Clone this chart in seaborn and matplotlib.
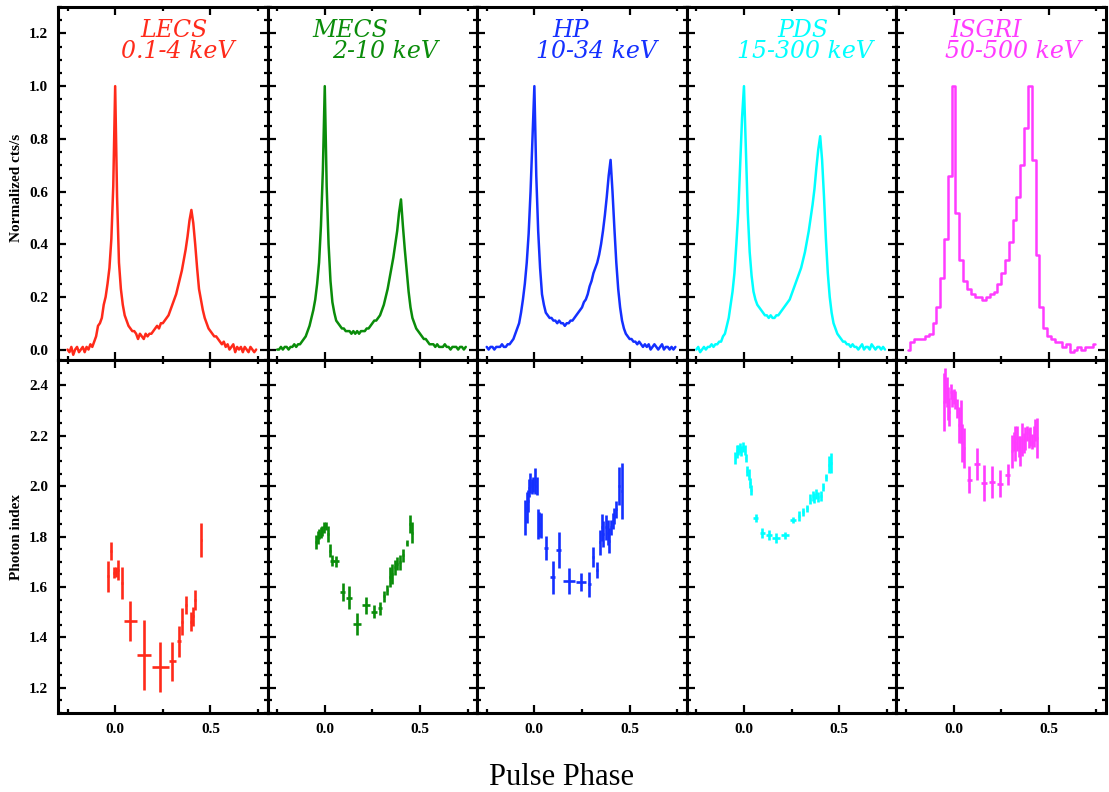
import numpy as np
import matplotlib
matplotlib.use("Agg")
import matplotlib.pyplot as plt
import seaborn as sns
from matplotlib.ticker import MultipleLocator

# ------------------------------------------------------------
# data

instruments = ["LECS", "MECS", "HP", "PDS", "ISGRI"]
energy_bands = ["0.1-4 keV", "2-10 keV", "10-34 keV", "15-300 keV", "50-500 keV"]
colors = ["#ff2a1a", "#0a8c0a", "#1430ff", "#00ffff", "#ff3cff"]

# pulse profiles, 0.01 phase bins starting at phase -0.25 (ISGRI: 0.02 bins from -0.24)
lecs_prof = [0.00, -0.01, 0.01, -0.02, 0.00, 0.01, -0.01, 0.00, 0.01, -0.01,
             0.01, 0.00, 0.02, 0.01, 0.03, 0.05, 0.09, 0.10, 0.12, 0.17,
             0.20, 0.25, 0.31, 0.42, 0.62, 1.00, 0.58, 0.33, 0.23, 0.17,
             0.13, 0.11, 0.09, 0.08, 0.07, 0.07, 0.06, 0.04, 0.06, 0.05,
             0.04, 0.06, 0.05, 0.06, 0.06, 0.07, 0.08, 0.09, 0.08, 0.10,
             0.10, 0.11, 0.12, 0.13, 0.15, 0.17, 0.19, 0.21, 0.24, 0.27,
             0.30, 0.34, 0.38, 0.43, 0.49, 0.53, 0.48, 0.40, 0.31, 0.23,
             0.19, 0.15, 0.12, 0.10, 0.08, 0.07, 0.06, 0.05, 0.05, 0.04,
             0.03, 0.02, 0.03, 0.01, 0.02, 0.00, 0.01, 0.02, -0.01, 0.01,
             0.00, 0.01, -0.01, 0.01, 0.00, -0.01, 0.01, 0.00, -0.01, 0.00]
mecs_prof = [0.00, 0.00, 0.01, 0.00, 0.01, 0.01, 0.00, 0.01, 0.01, 0.02,
             0.01, 0.02, 0.02, 0.03, 0.04, 0.05, 0.07, 0.09, 0.12, 0.15,
             0.19, 0.25, 0.33, 0.47, 0.68, 1.00, 0.62, 0.40, 0.26, 0.18,
             0.14, 0.11, 0.10, 0.09, 0.08, 0.08, 0.07, 0.07, 0.07, 0.06,
             0.07, 0.06, 0.07, 0.06, 0.07, 0.07, 0.07, 0.08, 0.08, 0.09,
             0.10, 0.11, 0.11, 0.12, 0.13, 0.15, 0.17, 0.20, 0.23, 0.27,
             0.31, 0.35, 0.40, 0.45, 0.52, 0.57, 0.47, 0.38, 0.30, 0.22,
             0.16, 0.12, 0.10, 0.08, 0.07, 0.06, 0.05, 0.04, 0.04, 0.03,
             0.02, 0.02, 0.02, 0.01, 0.02, 0.01, 0.01, 0.01, 0.02, 0.01,
             0.01, 0.00, 0.01, 0.01, 0.01, 0.00, 0.01, 0.01, 0.00, 0.01]
hp_prof = [0.01, 0.00, 0.01, 0.01, 0.00, 0.01, 0.01, 0.01, 0.02, 0.01,
           0.01, 0.02, 0.02, 0.03, 0.04, 0.06, 0.08, 0.10, 0.14, 0.19,
           0.25, 0.33, 0.44, 0.60, 0.80, 1.00, 0.66, 0.45, 0.31, 0.21,
           0.17, 0.14, 0.13, 0.12, 0.12, 0.11, 0.11, 0.10, 0.11, 0.10,
           0.10, 0.09, 0.10, 0.10, 0.11, 0.11, 0.12, 0.13, 0.14, 0.15,
           0.16, 0.18, 0.19, 0.21, 0.24, 0.26, 0.29, 0.31, 0.33, 0.36,
           0.40, 0.45, 0.51, 0.58, 0.66, 0.72, 0.60, 0.46, 0.33, 0.23,
           0.16, 0.11, 0.08, 0.06, 0.05, 0.04, 0.04, 0.03, 0.03, 0.02,
           0.03, 0.02, 0.01, 0.02, 0.01, 0.02, 0.00, 0.01, 0.02, 0.01,
           0.00, 0.01, 0.02, 0.00, 0.01, 0.01, 0.00, 0.01, 0.00, 0.01]
pds_prof = [0.00, 0.01, -0.01, 0.00, 0.01, 0.00, 0.01, 0.01, 0.02, 0.01,
            0.02, 0.02, 0.03, 0.03, 0.05, 0.06, 0.09, 0.12, 0.17, 0.22,
            0.29, 0.40, 0.52, 0.70, 0.88, 1.00, 0.76, 0.52, 0.37, 0.28,
            0.22, 0.19, 0.17, 0.16, 0.15, 0.14, 0.13, 0.13, 0.12, 0.13,
            0.12, 0.12, 0.13, 0.13, 0.14, 0.15, 0.16, 0.17, 0.18, 0.19,
            0.21, 0.23, 0.25, 0.27, 0.29, 0.31, 0.34, 0.37, 0.41, 0.45,
            0.50, 0.55, 0.61, 0.69, 0.76, 0.81, 0.72, 0.58, 0.42, 0.29,
            0.20, 0.14, 0.10, 0.08, 0.06, 0.05, 0.04, 0.03, 0.03, 0.02,
            0.02, 0.01, 0.02, 0.01, 0.01, 0.00, 0.01, 0.02, 0.00, 0.01,
            0.01, 0.00, 0.02, 0.01, 0.00, 0.01, 0.01, 0.00, 0.01, 0.00]
isgri_prof = [0.00, 0.03, 0.04, 0.04, 0.04, 0.05, 0.06, 0.10, 0.16, 0.27,
              0.42, 0.66, 1.00, 0.52, 0.34, 0.26, 0.23, 0.21, 0.20, 0.20,
              0.19, 0.20, 0.21, 0.22, 0.25, 0.29, 0.34, 0.41, 0.49, 0.58,
              0.70, 0.84, 1.00, 0.72, 0.36, 0.16, 0.08, 0.05, 0.04, 0.03,
              0.03, 0.01, 0.02, -0.01, 0.00, 0.01, 0.00, 0.01, 0.01, 0.02]

profiles = [lecs_prof, mecs_prof, hp_prof, pds_prof, isgri_prof]
prof_start = [-0.25, -0.25, -0.25, -0.25, -0.24]
prof_step = [0.01, 0.01, 0.01, 0.01, 0.02]
prof_draw = ["default", "default", "default", "default", "steps-mid"]

# photon index vs phase
lecs_ph = [-0.038, -0.021, -0.005, 0.004, 0.017, 0.035, 0.079, 0.152, 0.236,
           0.300, 0.335, 0.353, 0.374, 0.397, 0.411, 0.421, 0.453]
lecs_gam = [1.643, 1.744, 1.656, 1.661, 1.668, 1.616, 1.465, 1.331, 1.283,
            1.305, 1.384, 1.463, 1.530, 1.463, 1.483, 1.547, 1.786]
lecs_gerr = [0.062, 0.035, 0.022, 0.020, 0.040, 0.063, 0.081, 0.140, 0.100,
             0.078, 0.060, 0.052, 0.036, 0.037, 0.036, 0.040, 0.068]
lecs_perr = [0.004] * 6 + [0.035, 0.038, 0.044, 0.017, 0.010] + [0.005] * 6

mecs_ph = [-0.045, -0.038, -0.030, -0.021, -0.012, -0.003, 0.005, 0.017, 0.028,
           0.038, 0.059, 0.094, 0.127, 0.168, 0.215, 0.258, 0.290, 0.311, 0.328,
           0.342, 0.354, 0.366, 0.380, 0.394, 0.410, 0.429, 0.447, 0.459]
mecs_gam = [1.777, 1.797, 1.810, 1.816, 1.823, 1.836, 1.843, 1.810, 1.744,
            1.705, 1.702, 1.580, 1.558, 1.453, 1.528, 1.502, 1.515, 1.563, 1.587,
            1.640, 1.652, 1.679, 1.692, 1.698, 1.725, 1.773, 1.849, 1.816]
mecs_gerr = [0.028, 0.025, 0.020, 0.020, 0.020, 0.020, 0.015, 0.030, 0.025,
             0.022, 0.022, 0.037, 0.044, 0.043, 0.034, 0.026, 0.026, 0.023, 0.020,
             0.040, 0.040, 0.030, 0.025, 0.030, 0.025, 0.012, 0.036, 0.040]
mecs_perr = [0.004] * 9 + [0.009, 0.014, 0.014, 0.017, 0.021, 0.021, 0.017, 0.009] + [0.004] * 11

hp_ph = [-0.047, -0.040, -0.033, -0.028, -0.021, -0.012, -0.005, 0.003, 0.012,
         0.021, 0.026, 0.033, 0.061, 0.096, 0.127, 0.181, 0.247, 0.289, 0.308,
         0.329, 0.343, 0.354, 0.362, 0.375, 0.385, 0.394, 0.402, 0.413, 0.420,
         0.430, 0.444, 0.458]
hp_gam = [1.875, 1.915, 1.941, 1.993, 2.013, 2.000, 2.007, 2.020, 2.000,
          1.849, 1.849, 1.843, 1.755, 1.639, 1.748, 1.624, 1.620, 1.611, 1.718,
          1.668, 1.777, 1.836, 1.810, 1.836, 1.816, 1.784, 1.836, 1.862, 1.882,
          1.908, 2.000, 1.980]
hp_gerr = [0.070, 0.060, 0.045, 0.035, 0.040, 0.030, 0.030, 0.050, 0.035,
           0.060, 0.050, 0.050, 0.046, 0.066, 0.072, 0.050, 0.036, 0.050, 0.040,
           0.033, 0.050, 0.055, 0.050, 0.050, 0.050, 0.050, 0.030, 0.033, 0.033,
           0.035, 0.075, 0.110]
hp_perr = [0.004] * 12 + [0.010, 0.012, 0.012, 0.031, 0.026, 0.009] + [0.004] * 14

pds_ph = [-0.045, -0.038, -0.031, -0.023, -0.014, -0.005, 0.003, 0.009, 0.017,
          0.024, 0.031, 0.038, 0.061, 0.096, 0.131, 0.169, 0.216, 0.258, 0.290,
          0.309, 0.332, 0.349, 0.360, 0.370, 0.380, 0.391, 0.405, 0.417, 0.431,
          0.447, 0.457]
pds_gam = [2.111, 2.138, 2.144, 2.151, 2.140, 2.157, 2.144, 2.111, 2.059,
           2.046, 2.013, 1.983, 1.873, 1.814, 1.806, 1.794, 1.805, 1.865, 1.882,
           1.898, 1.912, 1.948, 1.961, 1.954, 1.970, 1.957, 1.961, 1.996, 2.035,
           2.085, 2.092]
pds_gerr = [0.025, 0.026, 0.020, 0.020, 0.020, 0.020, 0.020, 0.015, 0.020,
            0.020, 0.020, 0.020, 0.015, 0.020, 0.020, 0.020, 0.015, 0.013, 0.020,
            0.015, 0.015, 0.020, 0.020, 0.020, 0.020, 0.020, 0.020, 0.015, 0.015,
            0.033, 0.040]
pds_perr = [0.004] * 12 + [0.012, 0.012, 0.014, 0.021, 0.021, 0.017] + [0.004] * 13

isgri_ph = [-0.052, -0.044, -0.037, -0.030, -0.023, -0.014, -0.007, 0.002, 0.010,
            0.019, 0.028, 0.037, 0.045, 0.054, 0.082, 0.122, 0.161, 0.202, 0.244,
            0.284, 0.307, 0.316, 0.325, 0.333, 0.342, 0.351, 0.360, 0.368, 0.377,
            0.386, 0.394, 0.403, 0.412, 0.421, 0.429, 0.438]
isgri_gam = [2.334, 2.400, 2.374, 2.328, 2.295, 2.374, 2.348, 2.354, 2.341,
             2.308, 2.243, 2.256, 2.170, 2.150, 2.026, 2.088, 2.013, 2.016, 2.010,
             2.046, 2.138, 2.177, 2.170, 2.190, 2.157, 2.138, 2.184, 2.170, 2.190,
             2.210, 2.190, 2.197, 2.177, 2.197, 2.223, 2.190]
isgri_gerr = [0.115, 0.070, 0.060, 0.065, 0.055, 0.030, 0.033, 0.030, 0.036,
              0.036, 0.070, 0.085, 0.075, 0.080, 0.055, 0.065, 0.070, 0.065, 0.055,
              0.040, 0.065, 0.036, 0.070, 0.050, 0.040, 0.060, 0.065, 0.040, 0.045,
              0.030, 0.040, 0.036, 0.030, 0.040, 0.045, 0.080]
isgri_perr = [0.004] * 14 + [0.014, 0.017, 0.016, 0.017, 0.017, 0.014] + [0.004] * 16

index_data = [(lecs_ph, lecs_gam, lecs_perr, lecs_gerr),
              (mecs_ph, mecs_gam, mecs_perr, mecs_gerr),
              (hp_ph, hp_gam, hp_perr, hp_gerr),
              (pds_ph, pds_gam, pds_perr, pds_gerr),
              (isgri_ph, isgri_gam, isgri_perr, isgri_gerr)]

# title placement (axes fraction of line centres)
title_x1 = [0.555, 0.393, 0.445, 0.555, 0.427]
title_x2 = [0.569, 0.559, 0.569, 0.564, 0.555]

# ------------------------------------------------------------
# plotting

sns.set_style("ticks")
plt.rcParams["font.family"] = ["Liberation Serif", "DejaVu Serif"]
plt.rcParams["font.weight"] = "bold"
plt.rcParams["axes.edgecolor"] = "black"
plt.rcParams["xtick.color"] = "black"
plt.rcParams["ytick.color"] = "black"
plt.rcParams["text.color"] = "black"

fig, axes = plt.subplots(2, 5, figsize=(11.09, 7.92), dpi=100,
                         sharex=True, sharey="row",
                         gridspec_kw=dict(wspace=0, hspace=0))
fig.subplots_adjust(left=0.0523, right=0.9973, top=0.991, bottom=0.0997)

for i in range(5):
    ax = axes[0, i]
    prof = np.array(profiles[i])
    phase = prof_start[i] + prof_step[i] * np.arange(len(prof))
    sns.lineplot(x=phase, y=prof, ax=ax, color=colors[i], lw=1.8,
                 drawstyle=prof_draw[i])
    ax.text(title_x1[i], 0.935, instruments[i], transform=ax.transAxes,
            color=colors[i], fontsize=17, style="italic", fontweight="normal",
            family="DejaVu Serif", ha="center", va="center")
    ax.text(title_x2[i], 0.873, energy_bands[i], transform=ax.transAxes,
            color=colors[i], fontsize=17, style="italic", fontweight="normal",
            family="DejaVu Serif", ha="center", va="center")

    ax2 = axes[1, i]
    ph, gam, perr, gerr = index_data[i]
    ax2.errorbar(ph, gam, xerr=perr, yerr=gerr, fmt="none",
                 ecolor=colors[i], elinewidth=1.9, capsize=0)

for ax in axes.flat:
    ax.set_xlim(-0.3, 0.8)
    ax.xaxis.set_major_locator(MultipleLocator(0.5))
    ax.xaxis.set_minor_locator(MultipleLocator(0.25))
    ax.yaxis.set_major_locator(MultipleLocator(0.2))
    ax.yaxis.set_minor_locator(MultipleLocator(0.05))
    ax.tick_params(which="both", direction="in", top=True, right=True,
                   width=1.6, labelsize=11, pad=7, color="black")
    ax.tick_params(which="major", length=6)
    ax.tick_params(which="minor", length=3)
    for s in ax.spines.values():
        s.set_linewidth(2.2)
        s.set_color("black")
    ax.set_xlabel("")
    ax.set_ylabel("")

axes[0, 0].set_ylim(-0.04, 1.3)
axes[1, 0].set_ylim(1.1, 2.5)
axes[0, 0].yaxis.set_major_formatter(plt.FormatStrFormatter("%.1f"))
axes[1, 0].yaxis.set_major_formatter(plt.FormatStrFormatter("%.1f"))
axes[1, 0].xaxis.set_major_formatter(plt.FormatStrFormatter("%.1f"))

fig.text(0.0153, 1 - 188 / 792, "Normalized cts/s", rotation=90,
         ha="center", va="center", fontsize=11)
fig.text(0.0153, 1 - 537 / 792, "Photon index", rotation=90,
         ha="center", va="center", fontsize=11)
fig.text(0.506, 0.018, "Pulse Phase", ha="center", va="center",
         fontsize=22, fontweight="normal")

plt.savefig("out.png", dpi=100)
